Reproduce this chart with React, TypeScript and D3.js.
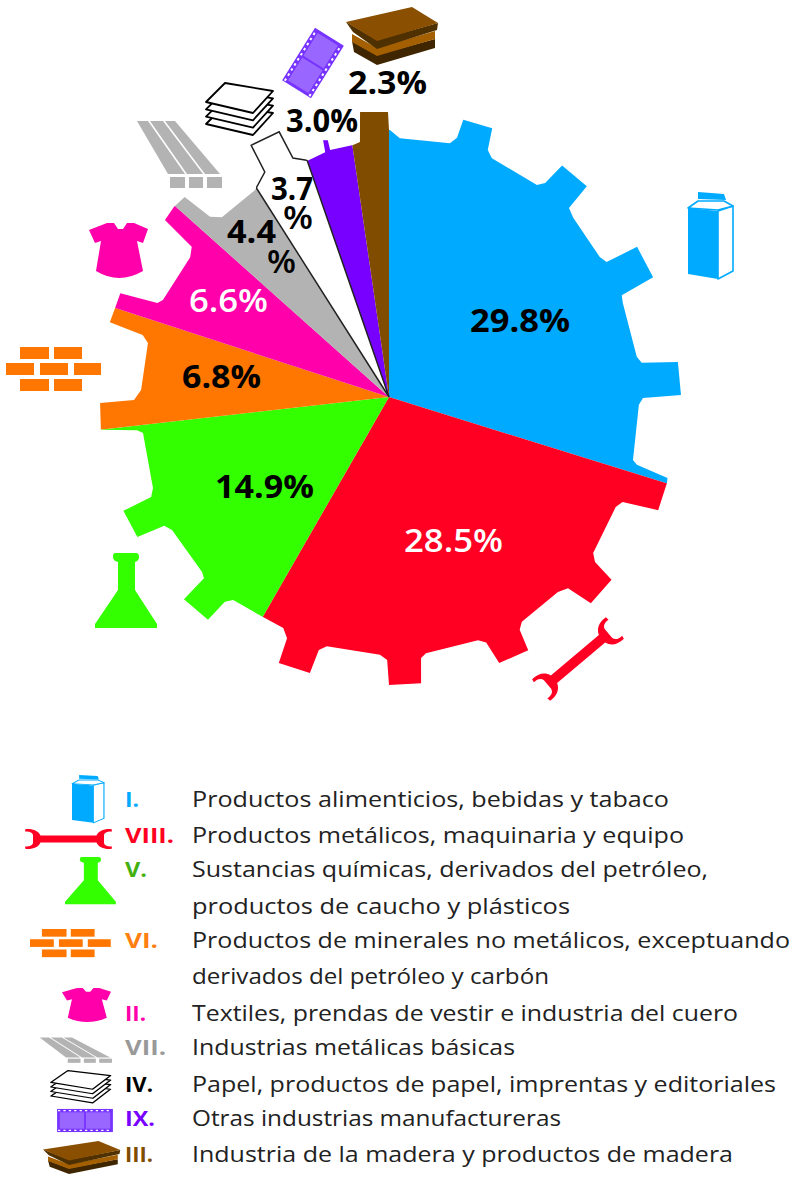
import React from "react";
import * as d3 from "d3";

// Share of manufacturing output by industry division, clockwise from twelve o'clock.
const divisions = ["I", "VIII", "V", "VI", "II", "VII", "IV", "IX", "III"];
const shares = [29.8, 28.5, 14.9, 6.8, 6.6, 4.4, 3.7, 3.0, 2.3];
const divisionColors = ["#00aaff", "#ff0022", "#33ff00", "#ff7700", "#ff00aa", "#b3b3b3", "#ffffff", "#7700ff", "#7f4c00"];
const labelColors = ["#000", "#fff", "#000", "#000", "#fff", "#000", "#000", "#000", "#000"];

const legendCodes = ["I.", "VIII.", "V.", "VI.", "II.", "VII.", "IV.", "IX.", "III."];
const legendCodeColors = ["#00aaff", "#ff0022", "#44b010", "#ff7f10", "#ff00aa", "#999999", "#000000", "#7700ff", "#7f4c00"];
const legendLines = [
  "Productos alimenticios, bebidas y tabaco",
  "Productos metálicos, maquinaria y equipo",
  "Sustancias químicas, derivados del petróleo,",
  "productos de caucho y plásticos",
  "Productos de minerales no metálicos, exceptuando",
  "derivados del petróleo y carbón",
  "Textiles, prendas de vestir e industria del cuero",
  "Industrias metálicas básicas",
  "Papel, productos de papel, imprentas y editoriales",
  "Otras industrias manufactureras",
  "Industria de la madera y productos de madera",
];

// Gear silhouette as [degrees clockwise from top, radius] around the hub.
const gearProfile: [number, number][] = [
  [0.2, 267], [2.4, 259], [13.5, 261], [14.7, 268], [15, 287], [21, 288], [21.8, 266], [23.3, 260],
  [34.9, 258.6], [36.1, 265], [36.8, 289], [43.2, 289], [43.6, 261], [45.8, 257],
  [56.4, 253], [58.2, 256], [58.8, 290], [65.6, 290], [66.4, 254], [68.1, 252],
  [80.8, 251], [82.3, 255], [83.1, 291], [89.6, 292], [90.2, 254], [91.8, 250],
  [104.5, 252], [105.3, 257], [106.2, 290], [107.2, 291], [112.8, 292], [114.2, 256], [115.9, 252],
  [127.4, 257], [128.7, 264], [129.4, 288], [135.6, 288.5], [136.9, 262], [139.1, 258],
  [149.4, 261], [150.7, 267], [151.2, 289], [157.5, 288], [158.4, 264], [159.9, 259],
  [171.8, 259], [173, 263], [173.6, 288], [180, 288], [180.4, 263], [182, 258],
  [194, 257], [195.5, 262.5], [196, 287], [202.5, 288], [202.9, 262], [204.6, 254], [209.8, 253.5],
  [217.5, 256], [218.7, 262.5], [219.1, 287], [225.4, 288], [225.6, 259], [226.9, 256],
  [238.5, 254.5], [240.2, 259], [240.9, 288], [246.8, 289], [247.2, 258], [248.9, 253],
  [261.7, 248.6], [262.5, 254], [263.5, 290], [268.8, 289], [269.3, 255], [271.6, 248],
  [282.6, 247], [284.1, 254], [285, 289], [288, 288], [291.1, 288], [292.1, 250], [293.2, 246],
  [305.1, 243], [307.3, 248], [308.3, 285.5], [311.5, 287], [314.4, 286], [315.2, 254], [317.1, 245.5],
  [327.1, 246.5], [331.1, 257], [331.3, 287], [337.5, 287], [338.1, 257.6], [341.1, 250],
  [345.4, 253], [345.6, 265], [346.6, 264], [346.6, 254], [351.9, 254.6], [353.5, 256.6],
  [354.2, 286.5], [359.8, 285], [360, 267],
];

const HUB_X = 389;
const HUB_Y = 397;
const WIDTH = 791;
const HEIGHT = 1178;

// Where each percentage sits; narrow slices break the % sign onto a second line.
const labelLayout = [
  [{ x: 470, y: 332, w: 100 }],
  [{ x: 404, y: 552, w: 99 }],
  [{ x: 215, y: 498, w: 99 }],
  [{ x: 182, y: 388, w: 79 }],
  [{ x: 189, y: 312, w: 79 }],
  [{ x: 227, y: 243, w: 49 }, { x: 267, y: 273, w: 29 }],
  [{ x: 271, y: 200, w: 42 }, { x: 283, y: 229, w: 30 }],
  [{ x: 286, y: 132, w: 72 }],
  [{ x: 348, y: 94, w: 79 }],
];

const legendBaselines = [807, 843, 877, 914, 948, 984, 1021, 1055, 1092, 1126, 1162];
const legendWidths = [477, 492, 516, 378, 598, 357, 546, 323, 584, 369, 541];
const codeRows = [0, 1, 2, 4, 6, 7, 8, 9, 10];
const codeWidths = [14, 49, 22, 33, 21, 41, 28, 30, 28];

const FONT = "'Open Sans', 'DejaVu Sans', sans-serif";

const toRad = (deg: number) => (deg * Math.PI) / 180;

const Carton = () => (
  <g>
    <path d="M0,16 L30,19 V87 L0,82 Z" fill="#00aaff" />
    <path d="M30,19 L45,14 V79 L30,87 Z" fill="#fff" stroke="#00aaff" strokeWidth={1.6} strokeLinejoin="round" />
    <path d="M0,16 L10,9 H36 L45,14 L30,18 Z" fill="#fff" stroke="#00aaff" strokeWidth={1.6} strokeLinejoin="round" />
    <path d="M10,0 L36,2 L38,8 L10,7 Z" fill="#00aaff" />
  </g>
);

const Wrench = () => (
  <path
    fill="#ff0022"
    d="M-28,-3.5 H28 C30,-8 35,-10.5 43,-10 L43.5,-7.5 C39,-8 36,-6.5 35.5,-4 V4 C36,6.5 39,8 43.5,7.5 L43,10 C35,10.5 30,8 28,3.5 H-28 C-30,8 -35,10.5 -43,10 L-43.5,7.5 C-39,8 -36,6.5 -35.5,4 V-4 C-36,-6.5 -39,-8 -43.5,-7.5 L-43,-10 C-35,-10.5 -30,-8 -28,-3.5 Z"
  />
);

const Flask = () => (
  <path
    fill="#33ff00"
    d="M20,0 H41 Q44,0 44,4 Q44,8 40,9 V37 L62,71 V75 H0 V71 L23,37 V9 Q18,8 18,4 Q18,0 20,0 Z"
  />
);

const Bricks = () => (
  <g fill="#ff7700">
    {[
      [14, 0, 29], [48, 0, 28],
      [0, 16, 28], [34, 16, 28], [68, 16, 27],
      [14, 32, 29], [48, 32, 28],
    ].map(([x, y, w], i) => (
      <rect key={i} x={x} y={y} width={w} height={12} />
    ))}
  </g>
);

const Shirt = () => (
  <path
    fill="#ff00aa"
    d="M0,7 L18,0 H25 L29,6 H34 L38,0 H45 L59,6 L54,20 L48,18 L54,48 Q30,62 7,48 L12,18 L6,20 Z"
  />
);

const Beams = () => (
  <g fill="#b3b3b3">
    <path d="M2,1 H13 L50,54 H33 Z" />
    <path d="M15,1 H28 L68,54 H52 Z" />
    <path d="M30,1 H40 L85,54 H70 Z" />
    <rect x={35} y={57} width={15} height={11} />
    <rect x={54} y={57} width={14} height={11} />
    <rect x={72} y={57} width={15} height={11} />
  </g>
);

const Paper = () => (
  <g fill="#fff" stroke="#000" strokeWidth={1.8} strokeLinejoin="round">
    {[22, 14.6, 7.3, 0].map((dy) => (
      <path key={dy} d="M20,1 L68,9 L48,31 L1,20 Z" transform={`translate(0,${dy})`} />
    ))}
  </g>
);

const Film = () => (
  <g>
    <rect x={-31} y={-17} width={62} height={34} fill="#7733ff" />
    <rect x={-28} y={-12} width={27} height={24} fill="#9966ff" />
    <rect x={1} y={-12} width={27} height={24} fill="#9966ff" />
    <g stroke="#fff" strokeWidth={2} strokeDasharray="2.5 3.5">
      <line x1={-30} x2={30} y1={-14.5} y2={-14.5} />
      <line x1={-30} x2={30} y1={14.5} y2={14.5} />
    </g>
  </g>
);

const Lumber = () => (
  <g strokeLinejoin="round">
    <path d="M6,34 L31,48 L89,32 V41 L31,58 L8,45 Z" fill="#3f2600" />
    <path d="M6,27 L31,41 L89,24 V32 L31,49 L6,35 Z" fill="#a45f00" />
    <path d="M0,15 L31,33 L92,16 L91,23 L31,42 L7,25 Z" fill="#4f3000" />
    <path d="M0,15 L66,0 L92,16 L31,34 Z" fill="#8a4f00" />
  </g>
);

export default function App() {
  const pieLayout = d3.pie<number>().sort(null).value((d) => d)(shares);
  const wedge = d3.arc<d3.PieArcDatum<number>>().innerRadius(0).outerRadius(340);
  const gearPath = d3
    .lineRadial<[number, number]>()
    .angle((d) => toRad(d[0]))
    .radius((d) => d[1])
    .curve(d3.curveLinearClosed)(gearProfile) as string;

  const whiteIndex = divisions.indexOf("IV");
  const whiteWedge = wedge(pieLayout[whiteIndex]) as string;

  return (
    <svg
      width={WIDTH}
      height={HEIGHT}
      viewBox={`0 0 ${WIDTH} ${HEIGHT}`}
      style={{ position: "absolute", left: 0, top: 0, display: "block", background: "#fff" }}
    >
      <defs>
        <clipPath id="gear-clip">
          <path d={gearPath} transform={`translate(${HUB_X},${HUB_Y})`} />
        </clipPath>
        <clipPath id="paper-wedge-clip">
          <path d={whiteWedge} transform={`translate(${HUB_X},${HUB_Y})`} />
        </clipPath>
      </defs>

      {/* Slices cut to the gear outline */}
      <g clipPath="url(#gear-clip)">
        <g transform={`translate(${HUB_X},${HUB_Y})`}>
          {pieLayout.map((slice, i) => (
            <path key={divisions[i]} d={wedge(slice) as string} fill={divisionColors[i]} />
          ))}
          <path d={whiteWedge} fill="none" stroke="#222" strokeWidth={1.5} />
        </g>
      </g>
      {/* The white slice needs its rim drawn to read against the page */}
      <g clipPath="url(#paper-wedge-clip)">
        <path
          d={gearPath}
          transform={`translate(${HUB_X},${HUB_Y})`}
          fill="none"
          stroke="#222"
          strokeWidth={1.5}
        />
      </g>

      {/* Industry pictograms around the gear */}
      <g transform="translate(688,192)"><Carton /></g>
      <g transform="translate(578,659) rotate(-40) scale(1.12,1.4)"><Wrench /></g>
      <g transform="translate(95,553)"><Flask /></g>
      <g transform="translate(6,347)"><Bricks /></g>
      <g transform="translate(89,223)"><Shirt /></g>
      <g transform="translate(135,120)"><Beams /></g>
      <g transform="translate(205,82)"><Paper /></g>
      <g transform="translate(313,63) rotate(-58)"><Film /></g>
      <g transform="translate(346,7)"><Lumber /></g>

      {/* Percentages */}
      <g fontFamily={FONT} fontSize={32}>
        {shares.map((v, i) => {
          const text = `${v.toFixed(1)}%`;
          const layout = labelLayout[i];
          const parts = layout.length > 1 ? [text.slice(0, -1), "%"] : [text];
          return parts.map((part, j) => (
            <text
              key={`${i}-${j}`}
              x={layout[j].x}
              y={layout[j].y}
              textLength={layout[j].w}
              lengthAdjust="spacingAndGlyphs"
              fill={labelColors[i]}
              fontWeight={labelColors[i] === "#fff" || part === "%" ? 600 : 700}
            >
              {part}
            </text>
          ));
        })}
      </g>

      {/* Legend icons */}
      <g transform="translate(72,775) scale(0.71,0.55)"><Carton /></g>
      <g transform="translate(68.5,839)"><Wrench /></g>
      <g transform="translate(65,857) scale(0.82,0.63)"><Flask /></g>
      <g transform="translate(30,929) scale(0.85,0.64)"><Bricks /></g>
      <g transform="translate(62,988) scale(0.83,0.62)"><Shirt /></g>
      <g transform="translate(38,1037) scale(0.85,0.38)"><Beams /></g>
      <g transform="translate(50,1070) scale(0.89,0.62)"><Paper /></g>
      <g transform="translate(85,1120.5) scale(0.9,0.68)"><Film /></g>
      <g transform="translate(43,1141) scale(0.84,0.57)"><Lumber /></g>

      {/* Legend division codes */}
      <g fontFamily={FONT} fontSize={21} fontWeight={700}>
        {legendCodes.map((code, i) => (
          <text
            key={code}
            x={125}
            y={legendBaselines[codeRows[i]]}
            textLength={codeWidths[i]}
            lengthAdjust="spacingAndGlyphs"
            fill={legendCodeColors[i]}
          >
            {code}
          </text>
        ))}
      </g>

      {/* Legend descriptions */}
      <g fontFamily={FONT} fontSize={21} fill="#222">
        {legendLines.map((line, i) => (
          <text
            key={line}
            x={192}
            y={legendBaselines[i]}
            textLength={legendWidths[i]}
            lengthAdjust="spacingAndGlyphs"
          >
            {line}
          </text>
        ))}
      </g>
    </svg>
  );
}
